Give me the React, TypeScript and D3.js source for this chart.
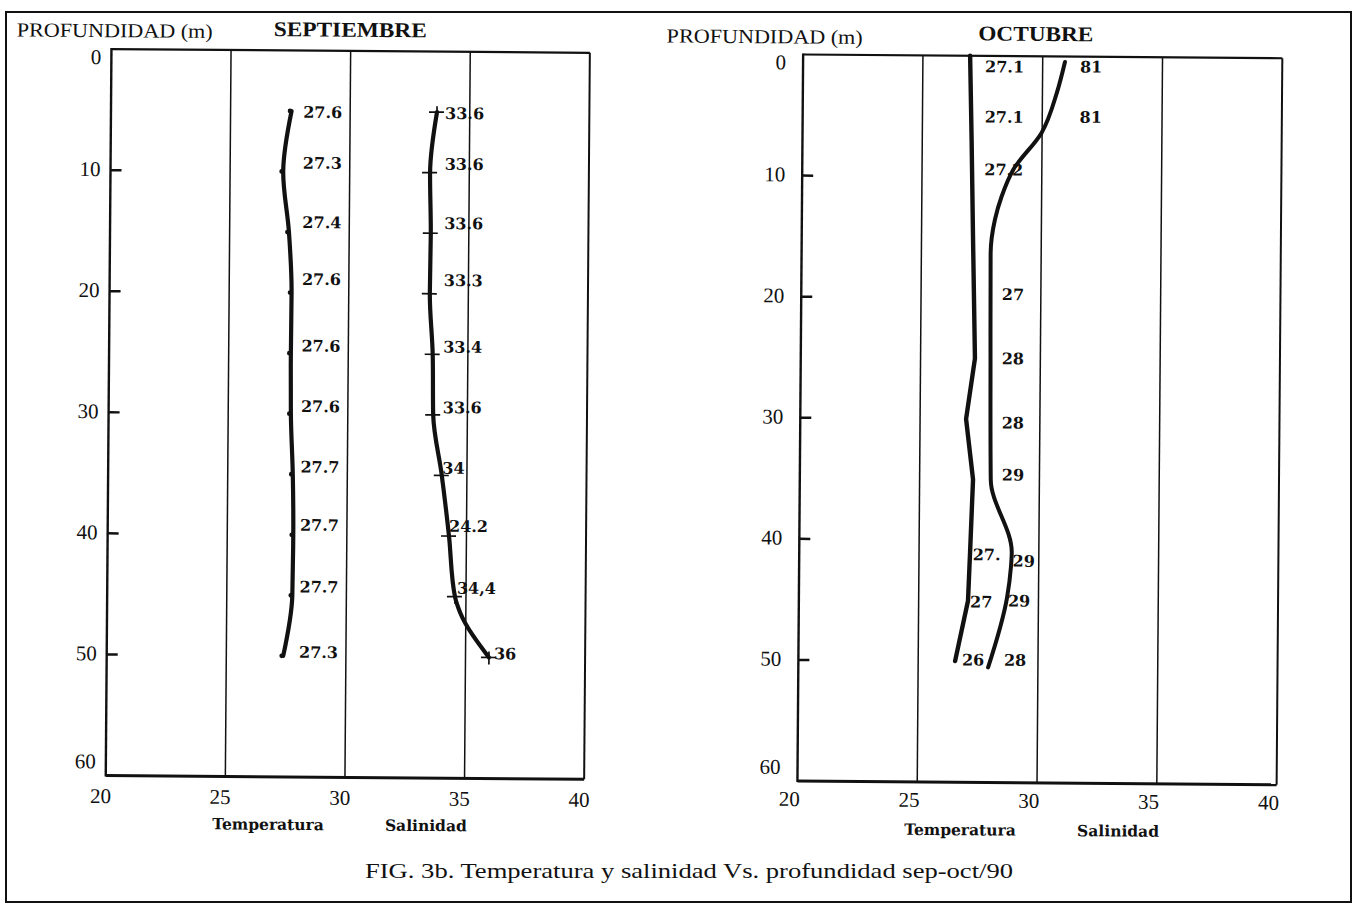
import * as d3 from "d3";

// axis ticks shared by both panels
const DEPTH_TICKS = [0, 10, 20, 30, 40, 50, 60];
const VALUE_TICKS = [20, 25, 30, 35, 40];
const GRID_VALUES = [25, 30, 35];

// SEPTIEMBRE
const sepDepths = [5, 10, 15, 20, 25, 30, 35, 40, 45, 50];
const sepTemp = [27.55, 27.22, 27.48, 27.61, 27.6, 27.62, 27.72, 27.76, 27.74, 27.38];
const sepSalDepths = [5, 10, 15, 20, 25, 30, 35, 40, 45, 46.3, 50];
const sepSal = [33.63, 33.36, 33.41, 33.39, 33.53, 33.57, 33.95, 34.27, 34.54, 34.76, 35.98];
const sepLabelDepths = [5.1, 9.3, 14.2, 18.9, 24.4, 29.4, 34.4, 39.2, 44.3, 49.7];
const sepTempLabels = ["27.6", "27.3", "27.4", "27.6", "27.6", "27.6", "27.7", "27.7", "27.7", "27.3"];
const sepTempLabelAt = [28.04, 28.04, 28.04, 28.04, 28.04, 28.04, 28.04, 28.04, 28.04, 28.04];
const sepSalLabels = ["33.6", "33.6", "33.6", "33.3", "33.4", "33.6", "34", "24.2", "34,4", "36"];
const sepSalLabelAt = [33.97, 33.97, 33.97, 33.97, 33.97, 33.97, 33.97, 34.27, 34.62, 36.19];

// OCTUBRE
const octTempDepths = [0, 7, 15, 25, 30, 35, 41, 45, 50];
const octTemp = [26.97, 27.06, 27.15, 27.27, 26.92, 27.23, 27.13, 27.06, 26.54];
const octSalDepths = [0.45, 3, 6.3, 9.4, 11.6, 13.5, 16.3, 25, 35, 41, 42.2, 44.7, 50.5];
const octSal = [30.93, 30.6, 29.98, 28.8, 28.33, 28.06, 27.89, 27.92, 27.97, 28.87, 28.84, 28.69, 27.92];
const octTempLabels = ["27.1", "27.1", "27.2", "27.", "27", "26"];
const octTempLabelDepths = [0.9, 5.05, 9.4, 41.2, 45.1, 49.9];
const octTempLabelAt = [27.6, 27.6, 27.6, 27.24, 27.15, 26.83];
const octSalLabels = ["81", "81", "27", "28", "28", "29", "29", "29", "28"];
const octSalLabelDepths = [0.85, 5.0, 19.7, 25.0, 30.3, 34.6, 41.7, 45.0, 49.9];
const octSalLabelAt = [31.56, 31.56, 28.37, 28.39, 28.41, 28.43, 28.91, 28.73, 28.58];

const W = 1353;
const H = 907;
const TOP = 53.5;
const BOTTOM = 780;
const INK = "#111111";
const SERIF = "'Liberation Serif', 'Times New Roman', serif";
const BOLD = "'DejaVu Serif', serif";

type Label = { text: string; depth: number; at: number };
type Series = {
  depths: number[];
  values: number[];
  width: number;
  curve: d3.CurveFactory;
  marker?: "dot" | "cross";
};

interface PanelProps {
  left: number;
  right: number;
  title: string;
  titleX: number;
  titleY: number;
  titleLen: number;
  yTitleX: number;
  yTitleY: number;
  yLabelGap: number;
  xLabelDx: number;
  xLabelDy: number;
  series: Series[];
  labels: Label[];
}

const zipLabels = (texts: string[], depths: number[], at: number[]): Label[] =>
  texts.map((t, i) => ({ text: t, depth: depths[i], at: at[i] }));

function Panel(p: PanelProps) {
  const x = d3.scaleLinear().domain([20, 40]).range([p.left, p.right]);
  const y = d3.scaleLinear().domain([0, 60]).range([TOP, BOTTOM]);

  return (
    <g>
      {/* titles */}
      <text x={p.yTitleX} y={p.yTitleY} fontFamily={SERIF} fontSize={20} textLength={196}
        lengthAdjust="spacingAndGlyphs" fill={INK}>
        PROFUNDIDAD (m)
      </text>
      <text x={p.titleX} y={p.titleY} fontFamily={SERIF} fontSize={21} fontWeight="bold"
        textAnchor="middle" textLength={p.titleLen} lengthAdjust="spacingAndGlyphs" fill={INK}>
        {p.title}
      </text>

      {/* grid */}
      {GRID_VALUES.map((v) => (
        <line key={v} x1={x(v)} x2={x(v)} y1={TOP} y2={BOTTOM} stroke={INK} strokeWidth={1.5} />
      ))}
      <line x1={p.left} x2={p.right} y1={TOP} y2={TOP} stroke={INK} strokeWidth={2.2} />
      <line x1={p.right} x2={p.right} y1={TOP} y2={BOTTOM} stroke={INK} strokeWidth={2} />
      <line x1={p.left} x2={p.left} y1={TOP - 1} y2={BOTTOM + 1} stroke={INK} strokeWidth={2.4} />
      <line x1={p.left} x2={p.right} y1={BOTTOM} y2={BOTTOM} stroke={INK} strokeWidth={3} />

      {/* depth axis */}
      {DEPTH_TICKS.map((t) => (
        <g key={t}>
          {t > 0 && t < 60 && (
            <line x1={p.left} x2={p.left + 11} y1={y(t)} y2={y(t)} stroke={INK} strokeWidth={2.5} />
          )}
          <text x={p.left - p.yLabelGap} y={y(t) + (t === 0 ? 8 : t === 60 ? -14 : -1)}
            textAnchor="end" dominantBaseline="central" fontFamily={SERIF} fontSize={21} fill={INK}>
            {t}
          </text>
        </g>
      ))}

      {/* value axis */}
      {VALUE_TICKS.map((t) => (
        <text key={t} x={x(t) + p.xLabelDx} y={BOTTOM + p.xLabelDy} textAnchor="middle"
          dominantBaseline="central" fontFamily={SERIF} fontSize={21} fill={INK}>
          {t}
        </text>
      ))}
      <text x={x(26.8)} y={827.5} textAnchor="middle" dominantBaseline="central"
        fontFamily={BOLD} fontWeight="bold" fontSize={15.5} fill={INK}>
        Temperatura
      </text>
      <text x={x(33.4)} y={827.5} textAnchor="middle" dominantBaseline="central"
        fontFamily={BOLD} fontWeight="bold" fontSize={15.5} fill={INK}>
        Salinidad
      </text>

      {/* profiles */}
      {p.series.map((s, i) => {
        const pts: [number, number][] = s.depths.map((d, j) => [d, s.values[j]]);
        const path = d3
          .line<[number, number]>()
          .x((d) => x(d[1]))
          .y((d) => y(d[0]))
          .curve(s.curve)(pts);
        return (
          <g key={i}>
            <path d={path ?? ""} fill="none" stroke={INK} strokeWidth={s.width} strokeLinecap="round"
              strokeLinejoin="round" />
            {s.marker === "dot" &&
              pts.map((d, j) => <circle key={j} cx={x(d[1]) - 1.5} cy={y(d[0])} r={2.4} fill={INK} />)}
            {s.marker === "cross" &&
              pts
                .filter((d) => d[0] % 5 === 0)
                .map((d, j) => (
                  <g key={j} stroke={INK} strokeWidth={1.7}>
                    <line x1={x(d[1]) - 8} x2={x(d[1]) + 7} y1={y(d[0])} y2={y(d[0])} />
                    <line x1={x(d[1])} x2={x(d[1])} y1={y(d[0]) - 6} y2={y(d[0]) + 7} />
                  </g>
                ))}
          </g>
        );
      })}

      {/* value annotations */}
      {p.labels.map((l, i) => (
        <text key={i} x={x(l.at)} y={y(l.depth)} dominantBaseline="central" fontFamily={BOLD}
          fontWeight="bold" fontSize={16} fill={INK}>
          {l.text}
        </text>
      ))}
    </g>
  );
}

export default function App() {
  return (
    <svg width={W} height={H} viewBox={`0 0 ${W} ${H}`}
      style={{ position: "absolute", left: 0, top: 0, background: "#ffffff" }}>
      <rect x={6} y={12} width={1345} height={890} fill="none" stroke={INK} strokeWidth={2} />
      <g transform={`rotate(0.45, ${W / 2}, ${H / 2})`}>
        <Panel
          left={108.3}
          right={586.7}
          title="SEPTIEMBRE"
          titleX={347}
          titleY={39.3}
          titleLen={153}
          yTitleX={13.4}
          yTitleY={41.7}
          yLabelGap={10}
          xLabelDx={-5}
          xLabelDy={20.5}
          series={[
            { depths: sepDepths, values: sepTemp, width: 4.2, curve: d3.curveMonotoneY, marker: "dot" },
            { depths: sepSalDepths, values: sepSal, width: 4.2, curve: d3.curveMonotoneY, marker: "cross" },
          ]}
          labels={[
            ...zipLabels(sepTempLabels, sepLabelDepths, sepTempLabelAt),
            ...zipLabels(sepSalLabels, sepLabelDepths, sepSalLabelAt),
          ]}
        />
        <Panel
          left={800}
          right={1279.2}
          title="OCTUBRE"
          titleX={1032.5}
          titleY={38}
          titleLen={115}
          yTitleX={663.4}
          yTitleY={42.6}
          yLabelGap={17}
          xLabelDx={-8}
          xLabelDy={18}
          series={[
            { depths: octTempDepths, values: octTemp, width: 4.4, curve: d3.curveLinear },
            { depths: octSalDepths, values: octSal, width: 4, curve: d3.curveMonotoneY },
          ]}
          labels={[
            ...zipLabels(octTempLabels, octTempLabelDepths, octTempLabelAt),
            ...zipLabels(octSalLabels, octSalLabelDepths, octSalLabelAt),
          ]}
        />
      </g>
      <text x={365} y={878} fontFamily={SERIF} fontSize={22} textLength={648}
        lengthAdjust="spacingAndGlyphs" fill={INK}>
        FIG. 3b. Temperatura y salinidad Vs. profundidad sep-oct/90
      </text>
    </svg>
  );
}
